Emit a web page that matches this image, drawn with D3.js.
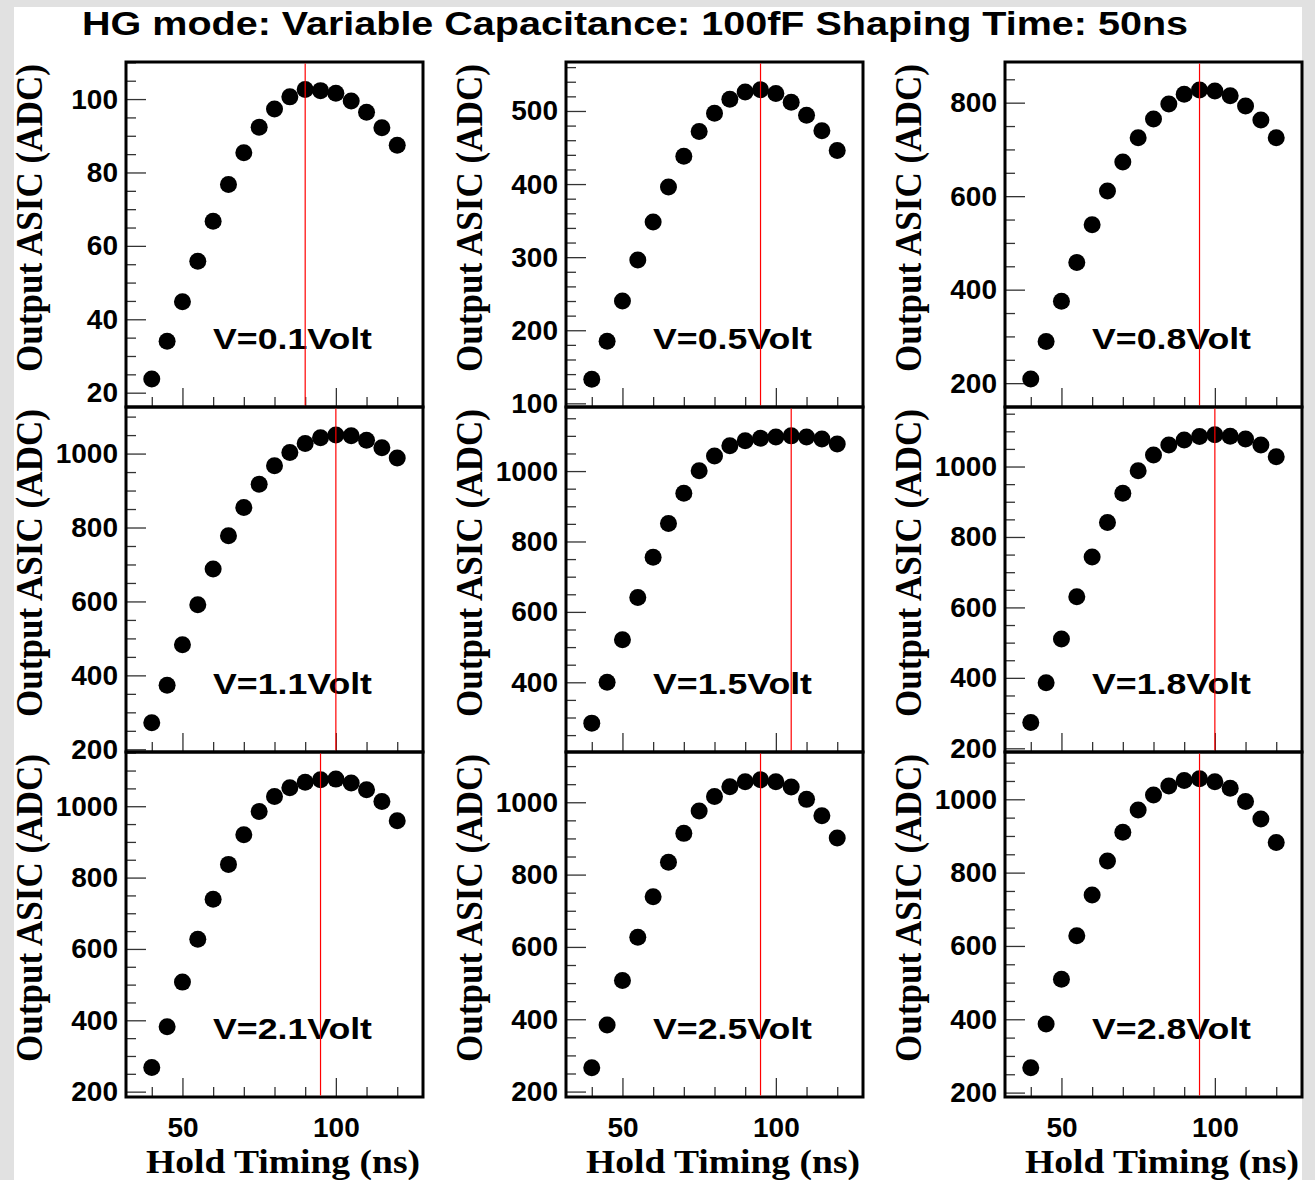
<!DOCTYPE html>
<html>
<head>
<meta charset="utf-8">
<script src="https://cdn.jsdelivr.net/npm/d3@7"></script>
<style>
  body { margin: 0; background: #e1e1e1; }
  svg { display: block; }
</style>
</head>
<body>
<div id="chart"></div>
<script>
// hold timing scan points (ns)
const holdTiming = [40, 45, 50, 55, 60, 65, 70, 75, 80, 85, 90, 95, 100, 105, 110, 115, 120];

const voltageLabels = ["V=0.1Volt", "V=0.5Volt", "V=0.8Volt",
                       "V=1.1Volt", "V=1.5Volt", "V=1.8Volt",
                       "V=2.1Volt", "V=2.5Volt", "V=2.8Volt"];

// ADC output, one array per injected voltage
const adc01 = [23.7, 34.0, 44.8, 55.8, 66.7, 76.7, 85.4, 92.3, 97.3, 100.6, 102.6, 102.3, 101.6, 99.5, 96.4, 92.2, 87.4];
const adc05 = [133, 185, 240, 296, 348, 396, 438, 472, 497, 516, 526, 529, 524, 512, 494, 473, 446];
const adc08 = [209, 289, 375, 458, 539, 611, 673, 725, 765, 797, 818, 827, 825, 815, 793, 763, 725];
const adc11 = [272, 373, 483, 591, 688, 778, 854, 917, 967, 1003, 1027, 1043, 1050, 1048, 1036, 1016, 988];
const adc15 = [284, 400, 521, 641, 755, 851, 937, 1001, 1043, 1072, 1086, 1093, 1097, 1100, 1097, 1091, 1077];
const adc18 = [273, 386, 510, 630, 743, 841, 924, 988, 1033, 1061, 1075, 1085, 1090, 1086, 1078, 1061, 1028];
const adc21 = [268, 382, 507, 627, 739, 837, 920, 985, 1027, 1052, 1067, 1074, 1076, 1065, 1046, 1013, 959];
const adc25 = [266, 384, 507, 627, 739, 834, 914, 976, 1016, 1043, 1057, 1062, 1057, 1042, 1008, 963, 901];
const adc28 = [268, 387, 509, 628, 739, 832, 910, 971, 1012, 1036, 1051, 1056, 1048, 1030, 994, 946, 882];
const seriesValues = [adc01, adc05, adc08, adc11, adc15, adc18, adc21, adc25, adc28];

// hold timing of the vertical red marker in each panel
const redLineTiming = [90, 95, 95, 100, 105, 100, 95, 95, 95];

// axis ranges
const xRange = [31.6, 128.4];
const yRanges = [[16.1, 110.1], [95, 567], [149, 887],
                 [192.7, 1126], [202, 1182], [189.5, 1169],
                 [185, 1152], [185, 1139], [188, 1129]];

// tick labels
const xTickLabels = [50, 100];
const xMinorTicks = [40, 60, 70, 80, 90, 110, 120];
const yTickLabels = [[20, 40, 60, 80, 100], [100, 200, 300, 400, 500], [200, 400, 600, 800],
                     [200, 400, 600, 800, 1000], [200, 400, 600, 800, 1000], [200, 400, 600, 800, 1000],
                     [200, 400, 600, 800, 1000], [200, 400, 600, 800, 1000], [200, 400, 600, 800, 1000]];
const yMinorStep = [5, 20, 50, 50, 50, 50, 50, 50, 50];

const width = 1315;
const height = 1180;
const panelLeft = [126, 566, 1005];
const panelTop = [62, 407, 752];
const panelW = 297;
const panelH = 345;

const sansFont = "'Liberation Sans', Arial, Helvetica, sans-serif";
const serifFont = "'Liberation Serif', 'Times New Roman', serif";

const svg = d3.select("#chart").append("svg")
  .attr("width", width)
  .attr("height", height);

// white canvas inside the grey window border
svg.append("rect")
  .attr("x", 14)
  .attr("y", 7)
  .attr("width", 1288)
  .attr("height", height - 7)
  .attr("fill", "#fff");

svg.append("text")
  .attr("x", 82)
  .attr("y", 35)
  .attr("textLength", 1106)
  .attr("lengthAdjust", "spacingAndGlyphs")
  .style("font-family", sansFont)
  .style("font-weight", "bold")
  .style("font-size", "33px")
  .text("HG mode: Variable Capacitance: 100fF Shaping Time: 50ns");

function styleAxis(sel) {
  sel.select(".domain").remove();
  sel.selectAll(".tick line")
    .attr("stroke", "#333")
    .attr("stroke-width", 1.3);
  sel.selectAll(".tick text")
    .attr("fill", "#000")
    .style("font-family", sansFont)
    .style("font-weight", "bold")
    .style("font-size", "28px");
}

seriesValues.forEach((values, i) => {
  const col = i % 3;
  const row = Math.floor(i / 3);
  const left = panelLeft[col];
  const top = panelTop[row];

  const x = d3.scaleLinear().domain(xRange).range([0, panelW]);
  const y = d3.scaleLinear().domain(yRanges[i]).range([panelH, 0]);
  const [y0, y1] = yRanges[i];

  const g = svg.append("g")
    .attr("transform", `translate(${left},${top})`);

  // y axis: major ticks with labels, minor ticks
  const majors = yTickLabels[i].filter(v => v >= y0 && v <= y1);
  const step = yMinorStep[i];
  const minors = d3.range(Math.ceil(y0 / step) * step, y1, step)
    .filter(v => !majors.includes(v));

  g.append("g")
    .call(d3.axisLeft(y).tickValues(minors).tickSize(-10).tickFormat(""))
    .call(styleAxis);

  g.append("g")
    .call(d3.axisLeft(y).tickValues(majors).tickSize(-20).tickPadding(8).tickFormat(d3.format("d")))
    .call(styleAxis);

  // x axis
  g.append("g")
    .attr("transform", `translate(0,${panelH})`)
    .call(d3.axisBottom(x).tickValues(xMinorTicks).tickSize(-10).tickFormat(""))
    .call(styleAxis);

  g.append("g")
    .attr("transform", `translate(0,${panelH})`)
    .call(d3.axisBottom(x).tickValues(xTickLabels).tickSize(-19).tickPadding(20)
      .tickFormat(row === 2 ? d3.format("d") : ""))
    .call(styleAxis);

  g.selectAll("circle")
    .data(holdTiming.map((t, j) => ({ t: t, v: values[j] })))
    .join("circle")
    .attr("cx", d => x(d.t))
    .attr("cy", d => y(d.v))
    .attr("r", 8.5)
    .attr("fill", "#000");

  g.append("rect")
    .attr("width", panelW)
    .attr("height", panelH)
    .attr("fill", "none")
    .attr("stroke", "#000")
    .attr("stroke-width", 3);

  g.append("text")
    .attr("x", 87)
    .attr("y", 287)
    .attr("textLength", 159)
    .attr("lengthAdjust", "spacingAndGlyphs")
    .style("font-family", sansFont)
    .style("font-weight", "bold")
    .style("font-size", "30px")
    .text(voltageLabels[i]);

  g.append("line")
    .attr("x1", x(redLineTiming[i]))
    .attr("x2", x(redLineTiming[i]))
    .attr("y1", 1.5)
    .attr("y2", panelH - 1.5)
    .attr("stroke", "#f00")
    .attr("stroke-width", 1.2);

  // axis titles
  svg.append("text")
    .attr("transform", `translate(${left - 84},${top + 2}) rotate(-90)`)
    .attr("text-anchor", "end")
    .attr("textLength", 308)
    .attr("lengthAdjust", "spacingAndGlyphs")
    .style("font-family", serifFont)
    .style("font-weight", "bold")
    .style("font-size", "38px")
    .text("Output ASIC (ADC)");

  if (row === 2) {
    svg.append("text")
      .attr("x", left + panelW - 3)
      .attr("y", 1173)
      .attr("text-anchor", "end")
      .attr("textLength", 274)
      .attr("lengthAdjust", "spacingAndGlyphs")
      .style("font-family", serifFont)
      .style("font-weight", "bold")
      .style("font-size", "34px")
      .text("Hold Timing (ns)");
  }
});
</script>
</body>
</html>
